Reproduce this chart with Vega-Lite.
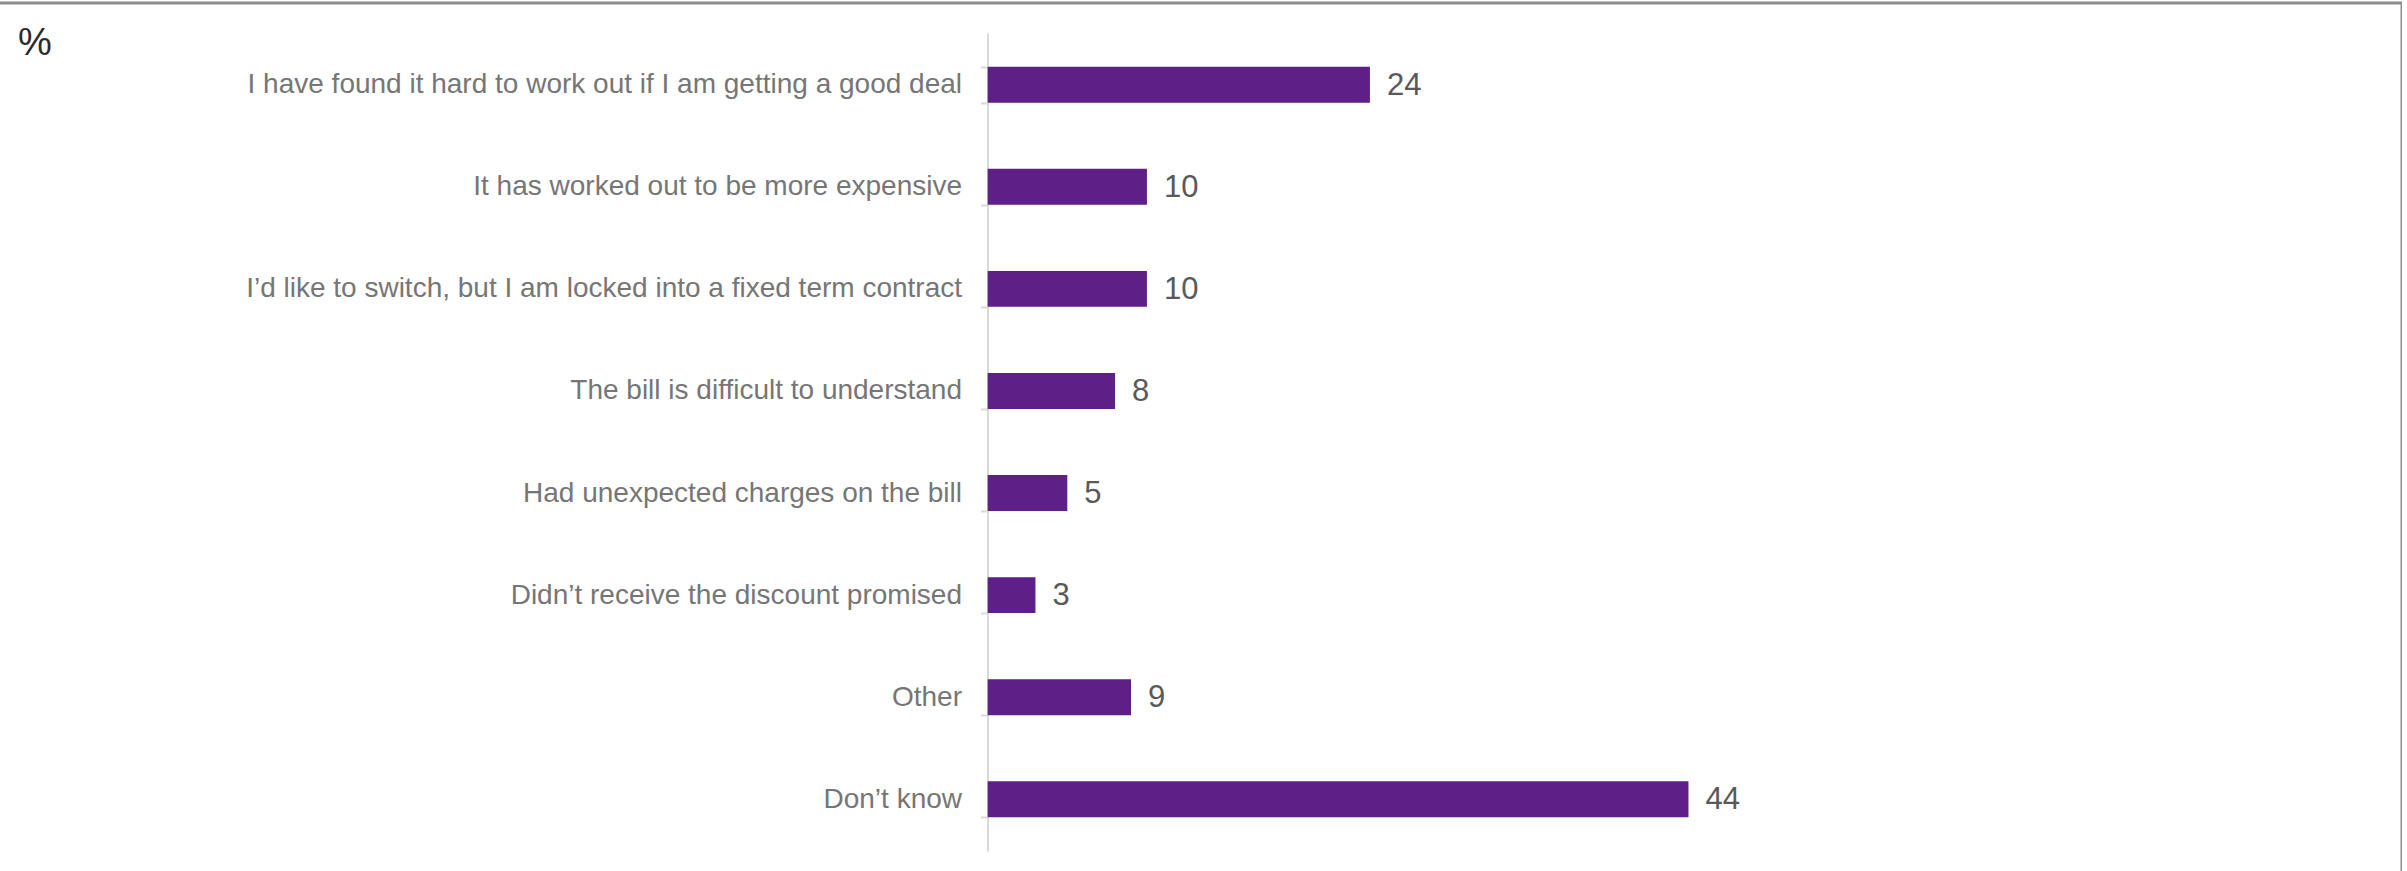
{
  "$schema": "https://vega.github.io/schema/vega-lite/v6.json",
  "autosize": {"type": "none"},
  "padding": {"left": -3, "top": 3, "right": 0, "bottom": -12},
  "width": 2405,
  "height": 880,
  "background": "white",
  "title": {
    "text": "%",
    "anchor": "start",
    "frame": "group",
    "font": "Liberation Sans",
    "fontSize": 38,
    "fontWeight": "normal",
    "color": "#2b2b2b",
    "baseline": "top",
    "dx": 21,
    "dy": 78
  },
  "config": {
    "view": {"stroke": "#8c8c8c", "strokeWidth": 3},
    "font": "Liberation Sans"
  },
  "data": {
    "values": [
      {"reason": "I have found it hard to work out if I am getting a good deal", "pct": 24},
      {"reason": "It has worked out to be more expensive", "pct": 10},
      {"reason": "I’d like to switch, but I am locked into a fixed term contract", "pct": 10},
      {"reason": "The bill is difficult to understand", "pct": 8},
      {"reason": "Had unexpected charges on the bill", "pct": 5},
      {"reason": "Didn’t receive the discount promised", "pct": 3},
      {"reason": "Other", "pct": 9},
      {"reason": "Don’t know", "pct": 44}
    ]
  },
  "encoding": {
    "y": {
      "field": "reason",
      "type": "nominal",
      "sort": null,
      "scale": {"range": [30, 848], "paddingInner": 0.648, "paddingOuter": 0.33},
      "axis": {
        "title": null,
        "offset": -990.5,
        "domainColor": "#d9d9d9",
        "domainWidth": 2,
        "tickColor": "#d9d9d9",
        "tickWidth": 2,
        "tickSize": 7,
        "tickBand": "extent",
        "labelPadding": 19,
        "labelLimit": 0,
        "labelFontSize": 28,
        "labelColor": "#767676",
        "labelFont": "Liberation Sans",
        "grid": false
      }
    },
    "x": {
      "field": "pct",
      "type": "quantitative",
      "scale": {"domain": [-62.2, 88.8], "nice": false, "zero": false},
      "axis": null
    }
  },
  "layer": [
    {"mark": {"type": "bar", "color": "#5e1f87"}},
    {
      "mark": {"type": "text", "align": "left", "baseline": "middle", "dx": 17, "dy": 1, "fontSize": 31, "color": "#595959", "font": "Liberation Sans"},
      "encoding": {"text": {"field": "pct", "type": "quantitative"}}
    }
  ]
}
